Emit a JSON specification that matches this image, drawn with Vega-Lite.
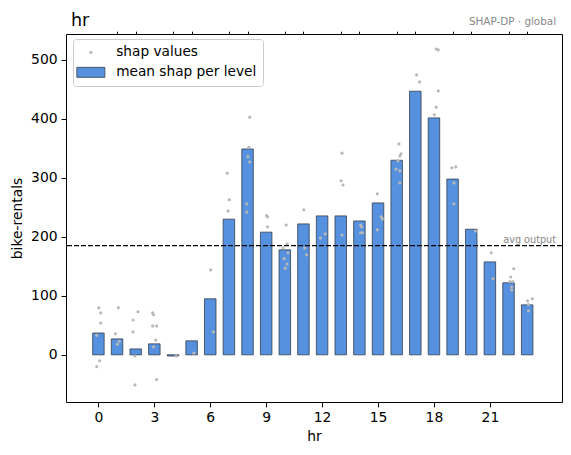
{
  "$schema": "https://vega.github.io/schema/vega-lite/v6.json",
  "width": 496,
  "height": 368,
  "autosize": {"type": "none"},
  "padding": {"left": 66, "top": 34, "right": 9, "bottom": 53},
  "background": "white",
  "config": {
    "font": "DejaVu Sans",
    "view": {"stroke": "black", "strokeWidth": 1},
    "axis": {
      "grid": false,
      "domain": false,
      "tickColor": "black",
      "labelColor": "black",
      "labelFontSize": 13.9,
      "titleFontSize": 13.9,
      "titleFontWeight": "normal",
      "titleColor": "black",
      "labelFont": "DejaVu Sans",
      "titleFont": "DejaVu Sans"
    }
  },
  "resolve": {"axis": {"x": "independent"}},
  "datasets": {
    "bars": [
      {"hr": 0, "mean": 37}, {"hr": 1, "mean": 27}, {"hr": 2, "mean": 10}, {"hr": 3, "mean": 18.6},
      {"hr": 4, "mean": -2}, {"hr": 5, "mean": 23.7}, {"hr": 6, "mean": 95}, {"hr": 7, "mean": 230},
      {"hr": 8, "mean": 349}, {"hr": 9, "mean": 208}, {"hr": 10, "mean": 178}, {"hr": 11, "mean": 222},
      {"hr": 12, "mean": 235.6}, {"hr": 13, "mean": 235.6}, {"hr": 14, "mean": 227}, {"hr": 15, "mean": 257.6},
      {"hr": 16, "mean": 330}, {"hr": 17, "mean": 447}, {"hr": 18, "mean": 401.7}, {"hr": 19, "mean": 298},
      {"hr": 20, "mean": 213}, {"hr": 21, "mean": 157.6}, {"hr": 22, "mean": 122}, {"hr": 23, "mean": 84.7}
    ],
    "pts": [
      {"x": 0.02, "shap": 79.6}, {"x": 0.12, "shap": 71}, {"x": 0.12, "shap": 54}, {"x": -0.09, "shap": 33}, {"x": 0.07, "shap": -10}, {"x": -0.09, "shap": -20},
      {"x": 1.07, "shap": 80}, {"x": 0.91, "shap": 35.6}, {"x": 1.02, "shap": 18}, {"x": 1.12, "shap": 23},
      {"x": 2.12, "shap": 73}, {"x": 1.86, "shap": 59}, {"x": 1.86, "shap": 39}, {"x": 1.96, "shap": -2}, {"x": 1.96, "shap": -51},
      {"x": 2.91, "shap": 71}, {"x": 2.96, "shap": 68}, {"x": 2.91, "shap": 49}, {"x": 3.12, "shap": 49}, {"x": 3.07, "shap": 25}, {"x": 2.96, "shap": 13.5}, {"x": 3.12, "shap": -42},
      {"x": 4.17, "shap": -2},
      {"x": 5.12, "shap": 3},
      {"x": 6.02, "shap": 144}, {"x": 6.17, "shap": 39},
      {"x": 6.91, "shap": 308}, {"x": 7.02, "shap": 263}, {"x": 6.96, "shap": 244},
      {"x": 8.12, "shap": 403}, {"x": 8.07, "shap": 352}, {"x": 8.02, "shap": 336}, {"x": 8.12, "shap": 327}, {"x": 7.96, "shap": 256}, {"x": 7.96, "shap": 242},
      {"x": 9.02, "shap": 236}, {"x": 9.07, "shap": 234}, {"x": 9.07, "shap": 217},
      {"x": 10.07, "shap": 220}, {"x": 10.12, "shap": 188}, {"x": 9.91, "shap": 181}, {"x": 10.17, "shap": 173}, {"x": 9.96, "shap": 163}, {"x": 10.12, "shap": 154}, {"x": 10.02, "shap": 147},
      {"x": 11.02, "shap": 246}, {"x": 11.07, "shap": 181}, {"x": 11.17, "shap": 169.5},
      {"x": 11.91, "shap": 198}, {"x": 12.17, "shap": 205},
      {"x": 13.07, "shap": 342}, {"x": 13.02, "shap": 295}, {"x": 13.12, "shap": 288}, {"x": 13.07, "shap": 203},
      {"x": 14.07, "shap": 220}, {"x": 14.12, "shap": 217}, {"x": 14.07, "shap": 207}, {"x": 14.17, "shap": 207},
      {"x": 14.96, "shap": 273}, {"x": 15.17, "shap": 234}, {"x": 15.23, "shap": 230.5}, {"x": 14.96, "shap": 212},
      {"x": 16.12, "shap": 357.6}, {"x": 16.23, "shap": 340.7}, {"x": 16.17, "shap": 337}, {"x": 16.07, "shap": 329}, {"x": 15.96, "shap": 315}, {"x": 16.17, "shap": 312}, {"x": 16.17, "shap": 291.5},
      {"x": 17.07, "shap": 474.6}, {"x": 17.23, "shap": 462.7},
      {"x": 18.12, "shap": 518.6}, {"x": 18.23, "shap": 517}, {"x": 18.23, "shap": 447.5}, {"x": 18.12, "shap": 420}, {"x": 18.02, "shap": 407},
      {"x": 18.96, "shap": 317}, {"x": 19.17, "shap": 318.6}, {"x": 19.07, "shap": 291.5}, {"x": 19.07, "shap": 256},
      {"x": 20.23, "shap": 210},
      {"x": 21.07, "shap": 173}, {"x": 21.17, "shap": 129},
      {"x": 22.28, "shap": 146}, {"x": 22.12, "shap": 132}, {"x": 22.07, "shap": 124}, {"x": 22.23, "shap": 124}, {"x": 22.17, "shap": 115}, {"x": 22.17, "shap": 110},
      {"x": 23.02, "shap": 91.5}, {"x": 23.28, "shap": 95}, {"x": 23.07, "shap": 85}, {"x": 23.07, "shap": 74.6}
    ]
  },
  "layer": [
    {
      "data": {"name": "bars"},
      "mark": {"type": "bar", "size": 11.5},
      "encoding": {
        "x": {
          "field": "hr", "type": "quantitative",
          "scale": {"domain": [-1.47, 24.6], "nice": false, "zero": false},
          "axis": {
            "title": "hr",
            "values": [0, 3, 6, 9, 12, 15, 18, 21],
            "labelOverlap": false,
            "tickSize": 4.9,
            "labelPadding": 4,
            "titlePadding": 5
          }
        },
        "y": {
          "field": "mean", "type": "quantitative",
          "scale": {"domain": [-80, 544], "nice": false, "zero": false},
          "axis": {"title": "bike-rentals", "values": [0, 100, 200, 300, 400, 500], "tickSize": 4.9, "labelPadding": 4, "titlePadding": 6}
        },
        "color": {
          "datum": "mean shap per level", "type": "nominal",
          "scale": {"domain": ["shap values", "mean shap per level"], "range": ["#b8b8b8", "#5591de"]},
          "legend": {
            "title": null,
            "orient": "none",
            "legendX": 7,
            "legendY": 5,
            "fillColor": "white",
            "strokeColor": "#cccccc",
            "cornerRadius": 3,
            "padding": 6.5,
            "symbolOffset": 4.5,
            "symbolSize": 400,
            "symbolType": {"expr": "datum.value === 'shap values' ? 'M0.17,0A0.17,0.17 0 1,1 -0.17,0A0.17,0.17 0 1,1 0.17,0Z' : 'M-1.4,-0.5H1.4V0.5H-1.4Z'"},
            "symbolStrokeColor": {"expr": "datum.value === 'shap values' ? 'transparent' : '#333d4d'"},
            "symbolStrokeWidth": {"expr": "datum.value === 'shap values' ? 0 : 0.8"},
            "symbolOpacity": 1,
            "labelOffset": 18.5,
            "labelFontSize": 13.7,
            "labelFont": "DejaVu Sans",
            "labelColor": "black",
            "labelLimit": 300,
            "rowPadding": 5
          }
        }
      }
    },
    {
      "data": {"name": "bars"},
      "mark": {"type": "bar", "size": 11.5, "fillOpacity": 0, "stroke": "#333d4d", "strokeWidth": 0.8},
      "encoding": {
        "x": {"field": "hr", "type": "quantitative", "axis": null},
        "y": {"field": "mean", "type": "quantitative"}
      }
    },
    {
      "data": {"name": "pts"},
      "mark": {"type": "circle", "size": 10, "opacity": 1, "color": "#b8b8b8"},
      "encoding": {
        "x": {
          "field": "x", "type": "quantitative",
          "axis": {"title": null, "labels": false, "values": [1, 2, 4, 5, 7, 8, 10, 11, 13, 14, 16, 17, 19, 20, 22, 23], "tickSize": 2.8}
        },
        "y": {"field": "shap", "type": "quantitative"}
      }
    },
    {
      "data": {"values": [{"avg": 185}]},
      "mark": {"type": "rule", "strokeDash": [5, 2], "strokeWidth": 1.2, "color": "black"},
      "encoding": {"y": {"field": "avg", "type": "quantitative"}}
    },
    {
      "data": {"values": [{"avg": 185, "xpos": 24.55}]},
      "mark": {"type": "text", "text": "avg output", "align": "right", "baseline": "alphabetic", "dy": -3, "fontSize": 9.7, "color": "#888888", "font": "DejaVu Sans"},
      "encoding": {"x": {"field": "xpos", "type": "quantitative", "axis": null}, "y": {"field": "avg", "type": "quantitative"}}
    },
    {
      "data": {"values": [{"xpos": 24.55, "ypos": 544}]},
      "mark": {"type": "text", "text": "SHAP-DP · global", "align": "right", "baseline": "alphabetic", "dy": -9.5, "fontSize": 10.4, "color": "#888888", "font": "DejaVu Sans"},
      "encoding": {"x": {"field": "xpos", "type": "quantitative", "axis": null}, "y": {"field": "ypos", "type": "quantitative"}}
    },
    {
      "data": {"values": [{"xpos": -1.47, "ypos": 544}]},
      "mark": {"type": "text", "text": "hr", "align": "left", "baseline": "alphabetic", "dy": -8, "fontSize": 17.5, "color": "black", "font": "DejaVu Sans"},
      "encoding": {"x": {"field": "xpos", "type": "quantitative", "axis": null}, "y": {"field": "ypos", "type": "quantitative"}}
    }
  ]
}
